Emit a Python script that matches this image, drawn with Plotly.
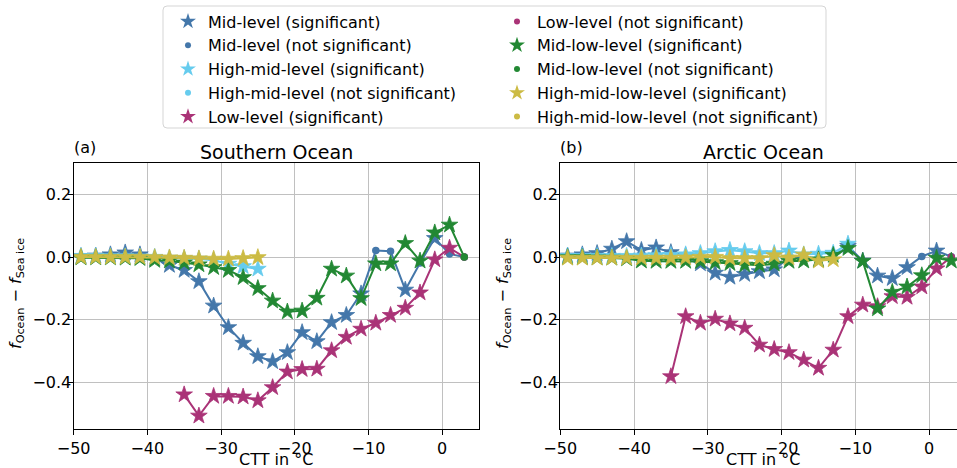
import plotly.graph_objects as go

# ---------------- data ----------------
ctt_bins = [-49, -47, -45, -43, -41, -39, -37, -35, -33, -31, -29, -27, -25, -23,
            -21, -19, -17, -15, -13, -11, -9, -7, -5, -3, -1, 1, 3]

# Southern Ocean
so_mid = [0.002, 0.004, 0.008, 0.014, 0.008, -0.005, -0.026, -0.042, -0.078, -0.156,
          -0.225, -0.275, -0.318, -0.334, -0.305, -0.241, -0.270, -0.209, -0.186, -0.117,
          0.021, 0.019, -0.105, -0.019, 0.060, 0.010, 0.000]
so_highmid = [0.003, 0.003, 0.002, 0.002, 0.001, 0.000, -0.003, -0.004, -0.006, -0.010,
              -0.022, -0.030, -0.038, None, None, None, None, None, None, None,
              None, None, None, None, None, None, None]
so_low = [None, None, None, None, None, None, None, -0.440, -0.508, -0.445,
          -0.445, -0.447, -0.459, -0.417, -0.367, -0.359, -0.358, -0.299, -0.256, -0.230,
          -0.211, -0.186, -0.163, -0.114, -0.008, 0.029, 0.000]
so_midlow = [-0.002, -0.002, -0.002, -0.003, -0.004, -0.010, -0.012, -0.018, -0.024, -0.033,
             -0.042, -0.065, -0.100, -0.140, -0.175, -0.172, -0.131, -0.038, -0.060, -0.132,
             -0.021, -0.021, 0.044, -0.012, 0.078, 0.103, 0.000]
so_hml = [0.000, 0.000, 0.000, 0.000, 0.000, -0.001, -0.002, -0.003, -0.005, -0.006,
          -0.006, -0.004, -0.001, None, None, None, None, None, None, None,
          None, None, None, None, None, None, None]
# CTT bins where the difference is not significant
so_mid_ns = [-9, -7, -3, 1, 3]
so_highmid_ns = []
so_low_ns = [3]
so_midlow_ns = [3]
so_hml_ns = []

# Arctic Ocean
ao_mid = [0.004, 0.008, 0.012, 0.026, 0.050, 0.022, 0.030, 0.015, 0.003, -0.021,
          -0.051, -0.064, -0.055, -0.046, -0.040, -0.002, 0.000, -0.010, 0.000, 0.035,
          -0.012, -0.060, -0.068, -0.033, 0.002, 0.020, 0.001]
ao_highmid = [0.003, 0.003, 0.003, 0.003, 0.003, 0.004, 0.005, 0.006, 0.008, 0.012,
              0.018, 0.022, 0.018, 0.012, 0.012, 0.020, 0.008, 0.010, 0.013, 0.042,
              None, None, None, None, None, None, None]
ao_low = [None, None, None, None, None, None, None, -0.382, -0.190, -0.211,
          -0.198, -0.213, -0.227, -0.281, -0.295, -0.305, -0.329, -0.355, -0.297, -0.190,
          -0.153, -0.158, -0.126, -0.128, -0.095, -0.037, 0.000]
ao_midlow = [-0.001, -0.001, -0.002, -0.003, -0.005, -0.012, -0.013, -0.013, -0.013, -0.014,
             -0.017, -0.020, -0.025, -0.026, -0.022, -0.013, -0.012, -0.008, 0.006, 0.028,
             -0.013, -0.165, -0.112, -0.095, -0.059, -0.003, -0.012]
ao_hml = [-0.003, -0.003, -0.003, -0.003, -0.003, -0.003, -0.003, -0.003, -0.002, 0.000,
          0.000, -0.004, -0.004, -0.004, 0.005, -0.002, 0.007, -0.012, -0.008, None,
          None, None, None, None, None, None, None]
ao_mid_ns = [-19, -17, -13, -1, 3]
ao_highmid_ns = []
ao_low_ns = [3]
ao_midlow_ns = []
ao_hml_ns = []

series_names = ["Mid-level", "High-mid-level", "Low-level", "Mid-low-level", "High-mid-low-level"]
series_colors = ["#4477AA", "#66CCEE", "#AA3377", "#228833", "#CCBB44"]

panel_titles = ["Southern Ocean", "Arctic Ocean"]
panel_letters = ["(a)", "(b)"]

FONT = "DejaVu Sans"
W, H = 957, 468

fig = go.Figure()


def add_series(x, y, ns_bins, color, xa, ya):
    px = [a for a, b in zip(x, y) if b is not None]
    py = [b for b in y if b is not None]
    fig.add_trace(go.Scatter(x=px, y=py, mode="lines", line=dict(color=color, width=2),
                             xaxis=xa, yaxis=ya, showlegend=False, hoverinfo="skip"))
    sx = [a for a, b in zip(px, py) if a not in ns_bins]
    sy = [b for a, b in zip(px, py) if a not in ns_bins]
    nx = [a for a, b in zip(px, py) if a in ns_bins]
    ny = [b for a, b in zip(px, py) if a in ns_bins]
    fig.add_trace(go.Scatter(x=sx, y=sy, mode="markers",
                             marker=dict(symbol="star", size=12.5, color=color,
                                         line=dict(width=0.8, color=color)),
                             xaxis=xa, yaxis=ya, showlegend=False))
    if nx:
        fig.add_trace(go.Scatter(x=nx, y=ny, mode="markers",
                                 marker=dict(symbol="circle", size=7.5, color=color),
                                 xaxis=xa, yaxis=ya, showlegend=False))


so_all = [(so_mid, so_mid_ns), (so_highmid, so_highmid_ns), (so_low, so_low_ns),
          (so_midlow, so_midlow_ns), (so_hml, so_hml_ns)]
ao_all = [(ao_mid, ao_mid_ns), (ao_highmid, ao_highmid_ns), (ao_low, ao_low_ns),
          (ao_midlow, ao_midlow_ns), (ao_hml, ao_hml_ns)]

for (vals, ns), c in zip(so_all, series_colors):
    add_series(ctt_bins, vals, ns, c, "x", "y")
for (vals, ns), c in zip(ao_all, series_colors):
    add_series(ctt_bins, vals, ns, c, "x2", "y2")

# legend entries (two columns via two legends)
entries = []
for name, c in zip(series_names, series_colors):
    entries.append((name + " (significant)", "star", 12, c))
    entries.append((name + " (not significant)", "circle", 6, c))
for i, (label, sym, sz, c) in enumerate(entries):
    fig.add_trace(go.Scatter(x=[None], y=[None], mode="markers", name=label,
                             marker=dict(symbol=sym, size=sz, color=c),
                             legend="legend" if i < 5 else "legend2"))

# ---------------- layout ----------------
def px2x(p):
    return p / W


def px2y(p):
    return 1 - p / H


xdom1 = [px2x(73.6), px2x(479)]
xdom2 = [px2x(560.2), 1.0]
ydom = [px2y(429), px2y(163.3)]

axis_common = dict(showline=True, linecolor="black", linewidth=1.2, ticks="outside",
                   ticklen=5, tickwidth=1.2, tickcolor="black", automargin=False,
                   showgrid=True, gridcolor="#c0c0c0", gridwidth=1, zeroline=False,
                   tickfont=dict(family=FONT, size=16, color="black"))

fig.update_layout(
    width=W, height=H,
    margin=dict(l=0, r=0, t=0, b=0, pad=0),
    paper_bgcolor="white", plot_bgcolor="white",
    font=dict(family=FONT, size=16, color="black"),
    xaxis=dict(domain=xdom1, range=[-50, 5], anchor="y", mirror=True,
               tickvals=[-50, -40, -30, -20, -10, 0], **axis_common),
    yaxis=dict(domain=ydom, range=[-0.55, 0.3], anchor="x", mirror=True,
               tickvals=[-0.4, -0.2, 0.0, 0.2], tickformat=".1f",
               ticklabelstandoff=-7, **axis_common),
    xaxis2=dict(domain=xdom2, range=[-50, 3.77], anchor="y2", mirror=True,
                tickvals=[-50, -40, -30, -20, -10, 0], **axis_common),
    yaxis2=dict(domain=ydom, range=[-0.55, 0.3], anchor="x2", mirror=False,
                tickvals=[-0.4, -0.2, 0.0, 0.2], tickformat=".1f",
                ticklabelstandoff=-7, **axis_common),
    legend=dict(x=px2x(168), y=px2y(4.5), xanchor="left", yanchor="top",
                bgcolor="rgba(0,0,0,0)", borderwidth=0,
                font=dict(family=FONT, size=16, color="black"), tracegroupgap=0),
    legend2=dict(x=px2x(497), y=px2y(4.5), xanchor="left", yanchor="top",
                 bgcolor="rgba(0,0,0,0)", borderwidth=0,
                 font=dict(family=FONT, size=16, color="black"), tracegroupgap=0),
    showlegend=True,
)

# legend frame (rounded)
x0, x1, y0, y1, r = 163, 826, 6, 128, 4
path = (f"M {px2x(x0 + r)} {px2y(y0)} L {px2x(x1 - r)} {px2y(y0)} "
        f"Q {px2x(x1)} {px2y(y0)} {px2x(x1)} {px2y(y0 + r)} "
        f"L {px2x(x1)} {px2y(y1 - r)} Q {px2x(x1)} {px2y(y1)} {px2x(x1 - r)} {px2y(y1)} "
        f"L {px2x(x0 + r)} {px2y(y1)} Q {px2x(x0)} {px2y(y1)} {px2x(x0)} {px2y(y1 - r)} "
        f"L {px2x(x0)} {px2y(y0 + r)} Q {px2x(x0)} {px2y(y0)} {px2x(x0 + r)} {px2y(y0)} Z")
fig.add_shape(type="path", path=path, xref="paper", yref="paper",
              line=dict(color="#d5d5d5", width=1), fillcolor="rgba(255,255,255,0.8)",
              layer="below")

annotations = []
centers = [(73.6 + 479) / 2, (560.2 + 966) / 2]
lefts = [73.6, 560.2]
ylab_x = [16, 503]
for i in range(2):
    annotations.append(dict(x=px2x(centers[i]), y=px2y(152), xref="paper", yref="paper",
                            text=panel_titles[i], showarrow=False, xanchor="center",
                            yanchor="middle", font=dict(family=FONT, size=19, color="black")))
    annotations.append(dict(x=px2x(lefts[i] - 2), y=px2y(147), xref="paper", yref="paper",
                            text=panel_letters[i], showarrow=False, xanchor="left",
                            yanchor="middle", font=dict(family=FONT, size=16, color="black")))
    annotations.append(dict(x=px2x(centers[i]), y=px2y(459), xref="paper", yref="paper",
                            text="CTT in °C", showarrow=False, xanchor="center",
                            yanchor="middle", borderpad=0,
                            font=dict(family=FONT, size=16, color="black")))
    annotations.append(dict(x=px2x(ylab_x[i]), y=px2y(294), xref="paper", yref="paper",
                            text="<i>f</i><sub>Ocean</sub> − <i>f</i><sub>Sea ice</sub>",
                            showarrow=False, textangle=-90, xanchor="center",
                            yanchor="middle", font=dict(family=FONT, size=16, color="black")))
fig.update_layout(annotations=annotations)

fig.write_html("out.html", config={"displayModeBar": False},
               post_script="document.body.style.margin='0';document.body.style.overflow='hidden';")
